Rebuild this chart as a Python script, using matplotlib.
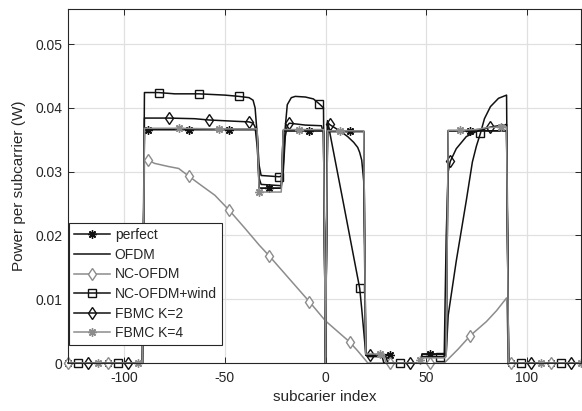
import numpy as np
import matplotlib
matplotlib.use("Agg")
import matplotlib.pyplot as plt
from matplotlib.lines import Line2D

plt.rcParams['font.family'] = ['Liberation Sans', 'DejaVu Sans']
plt.rcParams['axes.unicode_minus'] = False

# ---------------- data ----------------
perf_x = [-128, -108, -91, -90, -88, -68, -48, -34, -33, -28, -22, -21, -8, -1, 0, 1, 12, 19,
          20, 32, 33, 47, 48, 52, 59, 60, 61, 72, 90, 91, 92, 112, 127]
perf_y = [0, 0, 0, 0.0366, 0.0366, 0.0366, 0.0366, 0.0366, 0.0274, 0.0274, 0.0274, 0.0364, 0.0364, 0.0364, 0,
          0.0363, 0.0363, 0.0363, 0.0013, 0.0013, 0, 0, 0.0014, 0.0014, 0.0014, 0.0013, 0.0364, 0.0364, 0.0364,
          0, 0, 0, 0]
perf_mk = [-128, -108, -88, -68, -48, -28, -8, 12, 32, 52, 72, 92, 112]

ofdm_x = [-128, -91, -90, -34, -33, -22, -21, -1, 0, 1, 19, 20, 32, 33, 47, 48, 59, 60, 61, 90, 91, 127]
ofdm_y = [0, 0, 0.0366, 0.0366, 0.0274, 0.0274, 0.0364, 0.0364, 0, 0.0363, 0.0363, 0.0013, 0.0013, 0,
          0, 0.0014, 0.0014, 0.0013, 0.0364, 0.0364, 0, 0]

nc_x = [-128, -108, -91, -90, -88, -85, -78, -73, -68, -62, -55, -48, -40, -33, -28, -18, -8, 0, 12, 16,
        20, 21, 32, 52, 59, 60, 66, 72, 80, 85, 90, 91, 92, 112, 127]
nc_y = [0, 0, 0, 0.0318, 0.0318, 0.0313, 0.0308, 0.0305, 0.0293, 0.0279, 0.0263, 0.0240, 0.0211, 0.0185,
        0.0168, 0.0132, 0.0096, 0.0066, 0.0033, 0.0019, 0.0004, 0, 0, 0, 0, 0.0003, 0.0022, 0.0043, 0.0065,
        0.0082, 0.0102, 0, 0, 0, 0]
nc_mk = [-128, -108, -88, -68, -48, -28, -8, 12, 32, 52, 72, 92, 112]

wind_x = [-128, -123, -103, -91, -90, -83, -75, -63, -50, -43, -38, -36, -35, -34, -33, -32, -23, -22,
          -21, -20, -19, -17, -15, -10, -6, -3, -1, 0, 1, 3, 9, 17, 18, 19, 20, 21, 30, 31, 37, 47, 48,
          57, 59, 60, 61, 65, 70, 73, 75, 77, 79, 82, 86, 90, 91, 97, 117, 127]
wind_y = [0, 0, 0, 0, 0.0424, 0.0424, 0.0422, 0.0422, 0.0420, 0.0418, 0.0416, 0.0412, 0.0400, 0.0360,
          0.0310, 0.0294, 0.0292, 0.0293, 0.0310, 0.0370, 0.0405, 0.0416, 0.0418, 0.0417, 0.0414, 0.0406,
          0.0400, 0, 0.0380, 0.0347, 0.0249, 0.0117, 0.0085, 0.0050, 0.0015, 0.0010, 0.0010, 0, 0, 0,
          0.0010, 0.0010, 0.0010, 0.0015, 0.0075, 0.0160, 0.0255, 0.0315, 0.0340, 0.0360, 0.0383, 0.0402,
          0.0415, 0.0420, 0, 0, 0, 0]
wind_mk = [-123, -103, -83, -63, -43, -23, -3, 17, 37, 57, 77, 97, 117]

k2_x = [-128, -118, -98, -91, -90, -78, -65, -58, -45, -38, -36, -35, -34, -33, -32, -22, -21, -20, -19,
        -18, -10, -2, -1, 0, 1, 2, 5, 8, 11, 14, 16, 17, 18, 19, 20, 22, 28, 29, 42, 47, 48, 59, 60, 61,
        62, 65, 70, 75, 82, 90, 91, 102, 122, 127]
k2_y = [0, 0, 0, 0, 0.0384, 0.0384, 0.0383, 0.0381, 0.0379, 0.0378, 0.0376, 0.0370, 0.0340, 0.0290,
        0.0280, 0.0278, 0.0300, 0.0355, 0.0372, 0.0376, 0.0373, 0.0372, 0.0360, 0, 0.0378, 0.0374, 0.0368,
        0.0362, 0.0355, 0.0346, 0.0338, 0.0330, 0.0318, 0.0285, 0.0012, 0.0012, 0.0012, 0, 0, 0, 0.0010,
        0.0010, 0.0200, 0.0300, 0.0316, 0.0336, 0.0355, 0.0363, 0.0370, 0.0374, 0, 0, 0, 0]
k2_mk = [-118, -98, -78, -58, -38, -18, 2, 22, 42, 62, 82, 102, 122]

k4_x = [-128, -113, -93, -91, -90, -73, -53, -34, -33, -22, -21, -13, -1, 0, 1, 7, 19, 20, 27, 29, 30,
        46, 47, 48, 59, 60, 61, 67, 75, 80, 87, 90, 91, 107, 127]
k4_y = [0, 0, 0, 0, 0.0368, 0.0368, 0.0367, 0.0367, 0.0268, 0.0268, 0.0366, 0.0366, 0.0366, 0, 0.0364,
        0.0364, 0.0364, 0.0014, 0.0014, 0.0014, 0, 0, 0.0005, 0.0008, 0.0008, 0.0010, 0.0365, 0.0365,
        0.0366, 0.0369, 0.0370, 0.0370, 0, 0, 0]
k4_mk = [-113, -93, -73, -53, -33, -13, 7, 27, 47, 67, 87, 107, 127]

labels = ['perfect', 'OFDM', 'NC-OFDM', 'NC-OFDM+wind', 'FBMC K=2', 'FBMC K=4']
xticks = [-100, -50, 0, 50, 100]
xticklabels = ['-100', '-50', '0', '50', '100']
yticks = [0, 0.01, 0.02, 0.03, 0.04, 0.05]
yticklabels = ['0', '0.01', '0.02', '0.03', '0.04', '0.05']

# ---------------- styling ----------------
BLACK = '#111111'
GRAY = '#8c8c8c'
TXT = '#262626'
star = (8, 2, 0)

series = [
    (perf_x, perf_y, perf_mk, dict(color=BLACK, marker=star, ms=6, mew=1.0)),
    (ofdm_x, ofdm_y, [], dict(color=BLACK, marker=None)),
    (nc_x, nc_y, nc_mk, dict(color=GRAY, marker='d', ms=6.5, mew=1.0, mfc='white')),
    (wind_x, wind_y, wind_mk, dict(color=BLACK, marker='s', ms=5.5, mew=1.0, mfc='none')),
    (k2_x, k2_y, k2_mk, dict(color=BLACK, marker='d', ms=6.5, mew=1.0, mfc='none')),
    (k4_x, k4_y, k4_mk, dict(color=GRAY, marker=star, ms=6, mew=1.0)),
]

fig = plt.figure(figsize=(5.82, 4.11), dpi=100)
ax = fig.add_axes([68 / 582, 48 / 411, 513 / 582, 354 / 411])

handles = []
for (xs, ys, mk, st), lab in zip(series, labels):
    xs = np.asarray(xs, dtype=float)
    ys = np.asarray(ys, dtype=float)
    mask = np.isin(xs, mk) if len(mk) else None
    kw = dict(st)
    if kw.get('marker') is None:
        kw.pop('marker', None)
        ax.plot(xs, ys, lw=1.1, clip_on=False, **kw)
    else:
        ax.plot(xs, ys, lw=1.1, markevery=mask, clip_on=False, **kw)
    handles.append(Line2D([], [], lw=1.1, **{k: v for k, v in st.items() if v is not None}))

ax.set_xlim(-128, 127)
ax.set_ylim(0, 0.0555)
ax.set_xticks(xticks)
ax.set_xticklabels(xticklabels)
ax.set_yticks(yticks)
ax.set_yticklabels(yticklabels)

ax.grid(True, color='#e0e0e0', lw=0.9)
ax.set_axisbelow(True)
ax.tick_params(direction='in', top=True, right=True, length=4, width=0.7,
               color=TXT, labelcolor=TXT, labelsize=10)
ax.tick_params(axis='x', pad=6)
ax.tick_params(axis='y', pad=4)
for sp in ax.spines.values():
    sp.set_color(TXT)
    sp.set_linewidth(0.8)

ax.set_xlabel('subcarier index', fontsize=11, color=TXT, labelpad=3)
ax.set_ylabel('Power per subcarrier (W)', fontsize=11, color=TXT, labelpad=7)

leg = ax.legend(handles, labels, loc='lower left', bbox_to_anchor=(0.002, 0.051),
                borderaxespad=0, fontsize=10, fancybox=False, framealpha=1,
                edgecolor=TXT, handlelength=2.6, handletextpad=0.35,
                labelspacing=0.4, borderpad=0.35)
leg.get_frame().set_linewidth(0.8)
leg.set_zorder(5)
for t in leg.get_texts():
    t.set_color(TXT)

fig.savefig('out.png', dpi=100)
